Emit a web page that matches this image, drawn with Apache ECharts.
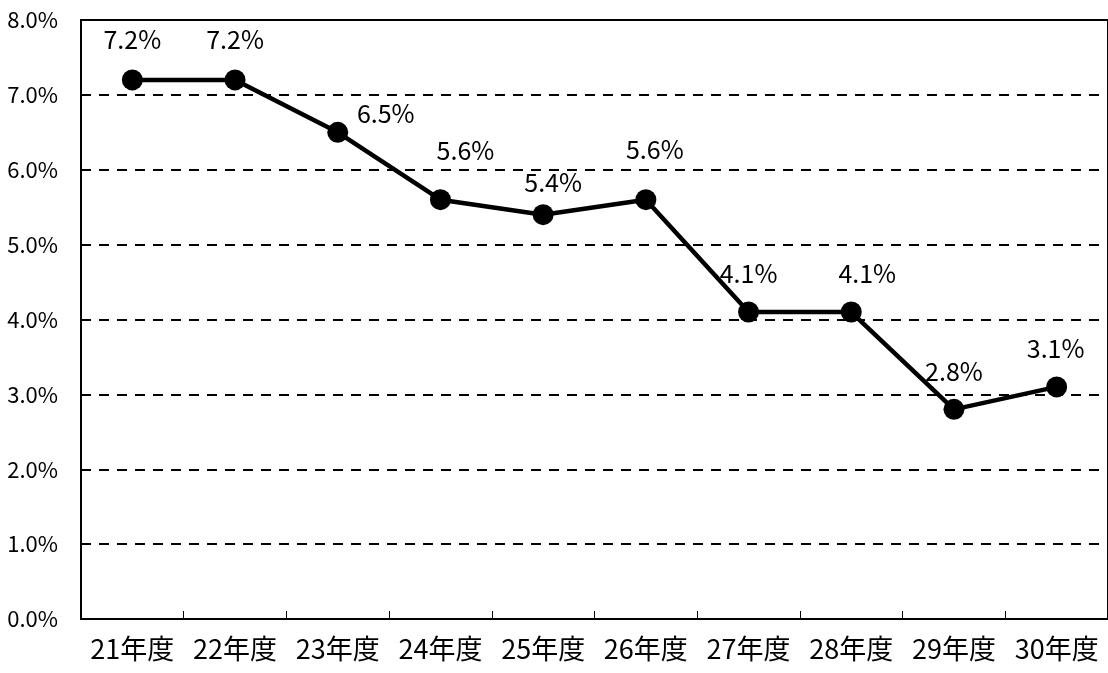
<!DOCTYPE html>
<html>
<head>
<meta charset="utf-8">
<script src="https://cdn.jsdelivr.net/npm/echarts@6/dist/echarts.min.js"></script>
<style>
  html, body { margin: 0; padding: 0; background: #fff; }
  #chart { width: 1108px; height: 673px; }
</style>
</head>
<body>
<div id="chart"></div>
<script>
// Fiscal years (Japanese era years) and the rate for each year, in percent
const years = ['21年度', '22年度', '23年度', '24年度', '25年度', '26年度', '27年度', '28年度', '29年度', '30年度'];
const rates = [7.2, 7.2, 6.5, 5.6, 5.4, 5.6, 4.1, 4.1, 2.8, 3.1];
const yMin = 0;
const yMax = 8;
const yStep = 1;

// Where each value label sits relative to its point, nudged clear of the line
const labelOffsets = [
  [0, -40], [0, -40], [48, -19], [25, -49], [10, -32],
  [9, -50], [0, -39], [16, -39], [0, -38], [-1, -38]
];

const font = "'Noto Sans CJK JP', 'Noto Sans', sans-serif";

const chart = echarts.init(document.getElementById('chart'));
chart.setOption({
  animation: false,
  backgroundColor: '#fff',
  grid: {
    left: 81,
    top: 20,
    width: 1029,
    bottom: 54,
    show: true,
    borderColor: '#000',
    borderWidth: 2,
    backgroundColor: 'transparent'
  },
  xAxis: {
    type: 'category',
    data: years,
    boundaryGap: true,
    axisLine: { show: true, lineStyle: { color: '#000', width: 2 } },
    axisTick: { show: true, inside: true, interval: 0, length: 8, lineStyle: { color: '#000', width: 1 } },
    axisLabel: { color: '#000', fontSize: 27, fontFamily: font, margin: 16, interval: 0 },
    splitLine: { show: false }
  },
  yAxis: {
    type: 'value',
    min: yMin,
    max: yMax,
    interval: yStep,
    axisLine: { show: true, lineStyle: { color: '#000', width: 2 } },
    axisTick: { show: false },
    axisLabel: {
      color: '#000', fontSize: 22, fontFamily: font, margin: 23,
      formatter: v => v.toFixed(1) + '%'
    },
    splitLine: { show: true, lineStyle: { color: '#000', width: 2, type: [10, 8] } }
  },
  series: [{
    type: 'line',
    data: rates.map((v, i) => ({ value: v, label: { offset: labelOffsets[i] } })),
    symbol: 'circle',
    symbolSize: 21,
    itemStyle: { color: '#000' },
    lineStyle: { color: '#000', width: 4.5 },
    label: {
      show: true,
      position: 'inside',
      color: '#000',
      fontSize: 25,
      fontFamily: font,
      formatter: p => p.value.toFixed(1) + '%'
    }
  }]
});
</script>
</body>
</html>
